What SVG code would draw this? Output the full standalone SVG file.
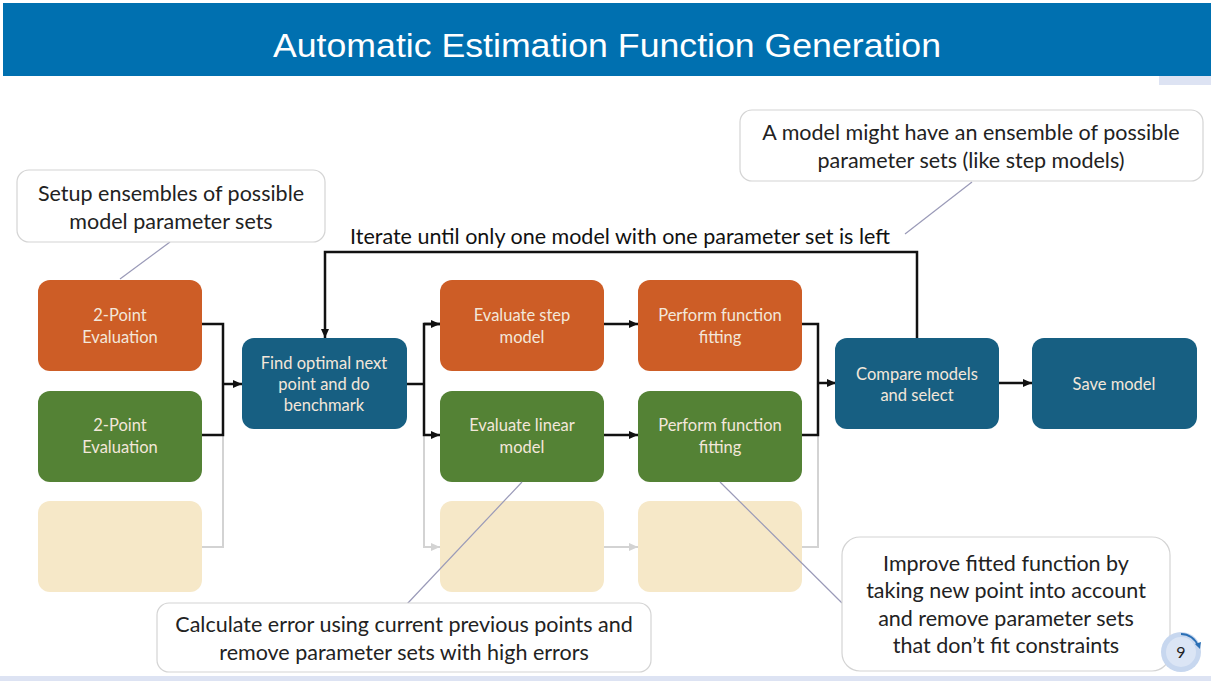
<svg xmlns="http://www.w3.org/2000/svg" width="1211" height="681" viewBox="0 0 1211 681">
<style>
.node text{font-family:Lato,"Liberation Sans",sans-serif;font-size:16.5px;fill:#f3e7da;text-anchor:middle}
.call rect{fill:#ffffff;stroke:#d4d4d4;stroke-width:1.2}
.call text{font-family:Lato,"Liberation Sans",sans-serif;font-size:21.5px;fill:#222222;text-anchor:middle}
.org{fill:#cd5d26}
.grn{fill:#548235}
.blu{fill:#175f82}
.bei{fill:#f6e8c8}
.blk{fill:none;stroke:#111111;stroke-width:2.5}
.gry{fill:none;stroke:#d3d3d3;stroke-width:2}
.ptr{stroke:#9a9ab8;stroke-width:1.2}
</style>
<defs>
<marker id="ab" markerUnits="userSpaceOnUse" markerWidth="10" markerHeight="10" refX="9" refY="5" orient="auto"><path d="M0,1 L9,5 L0,9 z" fill="#111111"/></marker>
<marker id="ag" markerUnits="userSpaceOnUse" markerWidth="10" markerHeight="10" refX="9" refY="5" orient="auto"><path d="M0,1 L9,5 L0,9 z" fill="#d3d3d3"/></marker>
</defs>
<rect x="0" y="0" width="1211" height="681" fill="#ffffff"/>
<g id="header">
<rect x="3" y="3" width="1208" height="73" fill="#0070b0"/>
<rect x="1159" y="76" width="52" height="9" fill="#dde3f3"/>
<text x="607" y="57" font-family="'Liberation Sans',sans-serif" font-size="34" fill="#ffffff" text-anchor="middle" textLength="668" lengthAdjust="spacingAndGlyphs">Automatic Estimation Function Generation</text>
</g>
<rect x="0" y="676" width="1211" height="5" fill="#dde3f3"/>
<g id="connectors">
<path class="gry" d="M202,547 H223 V435"/>
<path class="gry" d="M424,435 V547 H440" marker-end="url(#ag)"/>
<path class="gry" d="M604,547 H638" marker-end="url(#ag)"/>
<path class="gry" d="M802,547 H818 V435"/>
<path class="blk" d="M202,324 H223 V435 H202"/>
<path class="blk" d="M223,384 H242" marker-end="url(#ab)"/>
<path class="blk" d="M407,384 H424"/>
<path class="blk" d="M440,324 H424 V435 H440" marker-end="url(#ab)"/>
<path class="blk" d="M424,324 H440" marker-end="url(#ab)"/>
<path class="blk" d="M604,324 H638" marker-end="url(#ab)"/>
<path class="blk" d="M604,435 H638" marker-end="url(#ab)"/>
<path class="blk" d="M802,324 H818 V435 H802"/>
<path class="blk" d="M818,383 H836" marker-end="url(#ab)"/>
<path class="blk" d="M999,383 H1032" marker-end="url(#ab)"/>
<path class="blk" d="M917,338 V252 H325 V338" marker-end="url(#ab)"/>
<text x="620" y="244" font-family="Lato,'Liberation Sans',sans-serif" font-size="21.5" fill="#111111" text-anchor="middle">Iterate until only one model with one parameter set is left</text>
</g>
<g id="n1" class="node"><rect class="org" x="38" y="280" width="164" height="91" rx="12"/><text x="120" y="321">2-Point</text><text x="120" y="343">Evaluation</text></g>
<g id="n2" class="node"><rect class="grn" x="38" y="391" width="164" height="91" rx="12"/><text x="120" y="431">2-Point</text><text x="120" y="453">Evaluation</text></g>
<g id="n3" class="node"><rect class="bei" x="38" y="501" width="164" height="91" rx="12"/></g>
<g id="n4" class="node"><rect class="blu" x="242" y="338" width="165" height="91" rx="12"/><text x="324" y="369">Find optimal next</text><text x="324" y="390">point and do</text><text x="324" y="411">benchmark</text></g>
<g id="n5" class="node"><rect class="org" x="440" y="280" width="164" height="91" rx="12"/><text x="522" y="321">Evaluate step</text><text x="522" y="343">model</text></g>
<g id="n6" class="node"><rect class="grn" x="440" y="391" width="164" height="91" rx="12"/><text x="522" y="431">Evaluate linear</text><text x="522" y="453">model</text></g>
<g id="n7" class="node"><rect class="bei" x="440" y="501" width="164" height="91" rx="12"/></g>
<g id="n8" class="node"><rect class="org" x="638" y="280" width="164" height="91" rx="12"/><text x="720" y="321">Perform function</text><text x="720" y="343">fitting</text></g>
<g id="n9" class="node"><rect class="grn" x="638" y="391" width="164" height="91" rx="12"/><text x="720" y="431">Perform function</text><text x="720" y="453">fitting</text></g>
<g id="n10" class="node"><rect class="bei" x="638" y="501" width="164" height="91" rx="12"/></g>
<g id="n11" class="node"><rect class="blu" x="835" y="338" width="164" height="91" rx="12"/><text x="917" y="380">Compare models</text><text x="917" y="401">and select</text></g>
<g id="n12" class="node"><rect class="blu" x="1032" y="338" width="165" height="91" rx="12"/><text x="1114" y="390">Save model</text></g>
<g id="pointers">
<line class="ptr" x1="170" y1="242" x2="120" y2="279"/>
<line class="ptr" x1="972" y1="182" x2="905" y2="234"/>
<line class="ptr" x1="522" y1="482" x2="407" y2="604"/>
<line class="ptr" x1="720" y1="482" x2="842" y2="603"/>
</g>
<g id="c1" class="call"><rect x="17" y="170" width="308" height="72" rx="12"/><text x="171" y="201">Setup ensembles of possible</text><text x="171" y="229">model parameter sets</text></g>
<g id="c2" class="call"><rect x="740" y="110" width="463" height="71" rx="12"/><text x="971" y="140">A model might have an ensemble of possible</text><text x="971" y="168">parameter sets (like step models)</text></g>
<g id="c3" class="call"><rect x="157" y="603" width="494" height="69" rx="12"/><text x="404" y="632">Calculate error using current previous points and</text><text x="404" y="660">remove parameter sets with high errors</text></g>
<g id="c4" class="call"><rect x="842" y="537" width="328" height="134" rx="18"/><text x="1006" y="571">Improve fitted function by</text><text x="1006" y="598">taking new point into account</text><text x="1006" y="626">and remove parameter sets</text><text x="1006" y="653">that don’t fit constraints</text></g>
<g id="pagenum">
<circle cx="1181" cy="652" r="20" fill="#c7d7ef"/>
<circle cx="1181" cy="652" r="15" fill="#dbe5f5"/>
<path d="M1181,634 A18,18 0 0 1 1198,646" fill="none" stroke="#2a6fb5" stroke-width="1.8"/>
<path d="M1195,644 L1200,649 L1201,642 z" fill="#2a6fb5"/>
<text x="1181" y="658" font-family="Lato,'Liberation Sans',sans-serif" font-size="16" fill="#222222" text-anchor="middle">9</text>
</g>
</svg>
